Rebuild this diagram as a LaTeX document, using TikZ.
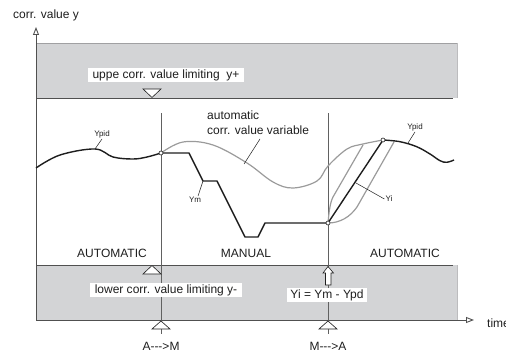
\documentclass[tikz,border=0pt]{standalone}
\usepackage{fontspec}
\setmainfont{Liberation Sans}
\usetikzlibrary{positioning}
\usetikzlibrary{arrows.meta}

\definecolor{bandgray}{RGB}{211,212,214}
\definecolor{edgegray}{RGB}{160,160,162}
\definecolor{axisgray}{RGB}{80,80,80}
\definecolor{curvegray}{RGB}{155,155,155}
\definecolor{inkblack}{RGB}{30,30,30}

\begin{document}
\begin{tikzpicture}[x=1pt, y=-1pt, every node/.style={font=\fontsize{12}{15}\selectfont, text=inkblack, inner sep=1pt}, >={Triangle[open, length=8pt, width=6pt]},
  tinylabel/.style={font=\fontsize{8}{9}\selectfont},
  limitlabel/.style={fill=white, inner xsep=5pt, minimum height=14pt},
  axisline/.style={draw=axisgray, line width=0.9pt},
  switchline/.style={draw=axisgray!90, line width=0.8pt},
  ypath/.style={draw=inkblack, line width=1.4pt, line join=round},
  autopath/.style={draw=curvegray, line width=1.2pt},
  leader/.style={draw=inkblack, line width=0.5pt},
  marker/.style={draw=inkblack, fill=white, line width=0.6pt, line join=miter},
  joint/.style={draw=inkblack, fill=white, line width=0.6pt}]

\useasboundingbox (0,0) rectangle (506,353);

% limiting bands
\fill[bandgray] (36,43) rectangle (457,98);
\fill[bandgray] (36,265) rectangle (457,320);
\draw[edgegray, line width=0.7pt] (36,43) -- (457,43);
\draw[edgegray!70, line width=1pt] (457,43) -- (457,98);
\draw[edgegray!70, line width=1pt] (457,265) -- (457,320);
\draw[axisline] (36,98) -- (453,98);
\draw[axisline] (36,265) -- (453,265);

% axes
\draw[axisline, ->] (36,320) -- (36,27);
\draw[axisline, ->] (36,320) -- (474,320);

% switching instants
\draw[switchline] (161,113) -- (161,334);
\draw[switchline] (328,113) -- (328,334);

% named points of the curves
\coordinate (ampoint) at (161,153);
\coordinate (mapoint) at (328,223);
\coordinate (mergepoint) at (383,140);

% corr. value variable in automatic mode
\draw[autopath] plot[smooth, tension=0.6] coordinates {(161,153) (183,142) (213,145) (247,163) (273,182) (293,188) (317,181) (328,166) (347,149) (363,144) (383,140)};
\draw[autopath] (mapoint) .. controls (329,212) and (330,203) .. (333,197) -- (363,145);
\draw[autopath] (mapoint) .. controls (340,223) and (350,217) .. (357,207) -- (394,142);

% corr. value y
\draw[ypath] plot[smooth, tension=0.6] coordinates {(36,168) (60,155) (95,149) (113,157) (133,159) (147,157) (161,153)};
\draw[ypath] (ampoint) -- (189,153) -- (203,181) -- (217,181) -- (245,237) -- (258,237) -- (265,223) -- (mapoint) -- (mergepoint);
\draw[ypath] plot[smooth, tension=0.6] coordinates {(383,140) (400,141.7) (416.7,146.7) (430,154) (440,160.7) (446.7,162.3) (454,160)};

\draw[joint] (ampoint) circle (2pt);
\draw[joint] (mapoint) circle (2pt);
\draw[joint] (mergepoint) circle (2pt);

% limiting markers
\draw[marker] (152,97.5) -- (161,89) -- (143,89) -- cycle;
\draw[marker] (152,265.5) -- (161,274) -- (143,274) -- cycle;
\draw[marker] (161,321) -- (170,329) -- (152,329) -- cycle;
\draw[marker] (328,321) -- (337,329) -- (319,329) -- cycle;
\draw[marker] (328,266.5) -- (333.5,273) -- (331,273) -- (331,285) -- (325.5,285) -- (325.5,273) -- (323,273) -- cycle;

% labels
\node (yaxislabel) at (46,15) {corr. value y};
\node (timelabel) [anchor=west] at (486,323) {time};
\node (upperlimit) [limitlabel] at (166,75) {uppe corr. value limiting\ \ y+};
\node (lowerlimit) [limitlabel] at (166,290) {lower corr. value limiting y-};
\node (yiformula) [limitlabel, inner xsep=3pt] at (327,295) {Yi = Ym - Ypd};
\node (autoleft) at (112,253) {AUTOMATIC};
\node (manual) at (246,253) {MANUAL};
\node (autoright) at (405,253) {AUTOMATIC};
\node (atom) at (161,346) {A-\kern0pt-\kern0pt->M};
\node (mtoa) at (328,346) {M-\kern0pt-\kern0pt->A};
\node (autovar) [anchor=north west, align=left] at (206,110) {automatic\\corr. value variable};

\node (ypidleft) [tinylabel] at (102,134) {Ypid};
\node (ypidright) [tinylabel] at (415,127) {Ypid};
\node (ymlabel) [tinylabel] at (195,200) {Ym};
\node (yilabel) [tinylabel] at (389,199) {Yi};

\coordinate (ypidleftpt) at (95,149);
\coordinate (ypidrightpt) at (408,143);
\coordinate (ympt) at (203,181);
\coordinate (yipt) at (356,183);
\coordinate (autovarpt) at (244,164);

\draw[leader] (ypidleft.south) -- (ypidleftpt);
\draw[leader] (ypidright.south) -- (ypidrightpt);
\draw[leader] (ymlabel.north) ++(3,0) -- (ympt);
\draw[leader] (yilabel.west) -- (yipt);
\draw[leader] (260,139) -- (autovarpt);

\end{tikzpicture}
\end{document}
